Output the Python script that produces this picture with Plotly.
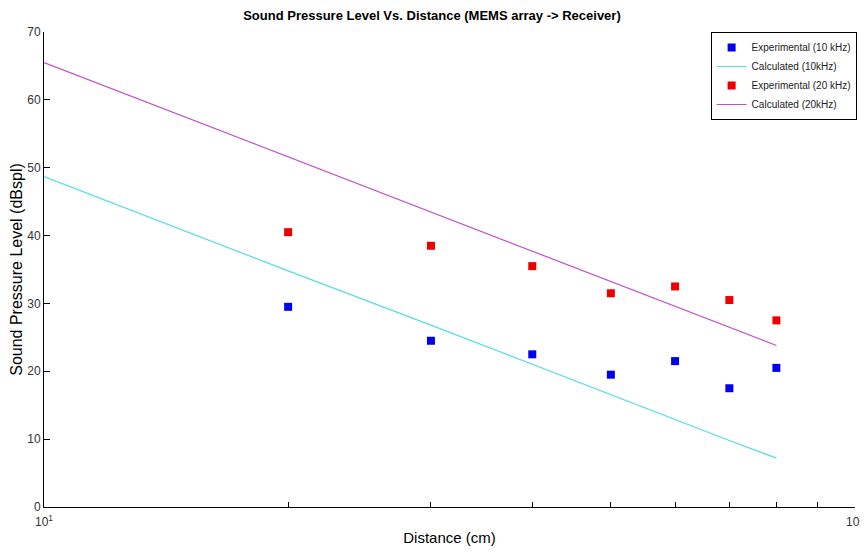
import plotly.graph_objects as go

distance = [20, 30, 40, 50, 60, 70, 80]
exp_10k = [29.5, 24.5, 22.5, 19.5, 21.5, 17.5, 20.5]
exp_20k = [40.5, 38.5, 35.5, 31.5, 32.5, 30.5, 27.5]

calc_distance = [10, 20, 30, 40, 50, 60, 70, 80]
calc_10k = [48.7, 34.8, 26.8, 21.0, 16.6, 12.9, 9.8, 7.2]
calc_20k = [65.5, 51.6, 43.5, 37.8, 33.3, 29.6, 26.5, 23.8]

FONT = "Liberation Sans, Arial, sans-serif"

fig = go.Figure()
fig.add_trace(go.Scatter(x=distance, y=exp_10k, mode="markers", name="Experimental (10 kHz)",
                         marker=dict(symbol="square", size=8, color="#0000ee")))
fig.add_trace(go.Scatter(x=calc_distance, y=calc_10k, mode="lines", name="Calculated (10kHz)",
                         line=dict(color="#55dde0", width=1.2)))
fig.add_trace(go.Scatter(x=distance, y=exp_20k, mode="markers", name="Experimental (20 kHz)",
                         marker=dict(symbol="square", size=8, color="#ee0000")))
fig.add_trace(go.Scatter(x=calc_distance, y=calc_20k, mode="lines", name="Calculated (20kHz)",
                         line=dict(color="#c050c8", width=1.2)))

# the page body adds an 8px margin, so the figure is 8px smaller on each axis
fig.update_layout(
    width=860, height=544,
    margin=dict(l=36, r=13, t=24, b=45, autoexpand=False),
    paper_bgcolor="white", plot_bgcolor="white",
    font=dict(family=FONT, color="#333333", size=12),
    title=dict(text="<b>Sound Pressure Level Vs. Distance (MEMS array -> Receiver)</b>",
               x=0.493, xanchor="center", xref="container", y=0.995, yanchor="top",
               font=dict(family=FONT, size=13, color="black")),
    showlegend=True,
    legend=dict(x=1.002, xanchor="right", y=1.0, yanchor="top",
                bgcolor="white", bordercolor="black",
                borderwidth=1, font=dict(family=FONT, size=10, color="#222222"),
                tracegroupgap=0, itemwidth=30),
    xaxis=dict(type="log", range=[1, 2], showline=True, linecolor="black", linewidth=1,
               showgrid=False, zeroline=False, mirror=False,
               tickvals=[10, 100], ticktext=["10<sup>1</sup>", "10<sup>2</sup>"],
               ticks="inside", ticklen=7, tickcolor="black", ticklabelstandoff=4,
               minor=dict(tickvals=[20, 30, 40, 50, 60, 70, 80, 90], ticks="inside",
                          ticklen=5, tickcolor="black", showgrid=False),
               title=dict(text="Distance (cm)", font=dict(family=FONT, size=15, color="black"),
                          standoff=4)),
    yaxis=dict(range=[0, 70], showline=True, linecolor="black", linewidth=1,
               showgrid=False, zeroline=False, tickvals=[0, 10, 20, 30, 40, 50, 60, 70],
               ticks="inside", ticklen=6, tickcolor="black",
               title=dict(text="Sound Pressure Level (dBspl)",
                          font=dict(family=FONT, size=16, color="black"),
                          standoff=5)),
)

fig.write_html("out.html")
